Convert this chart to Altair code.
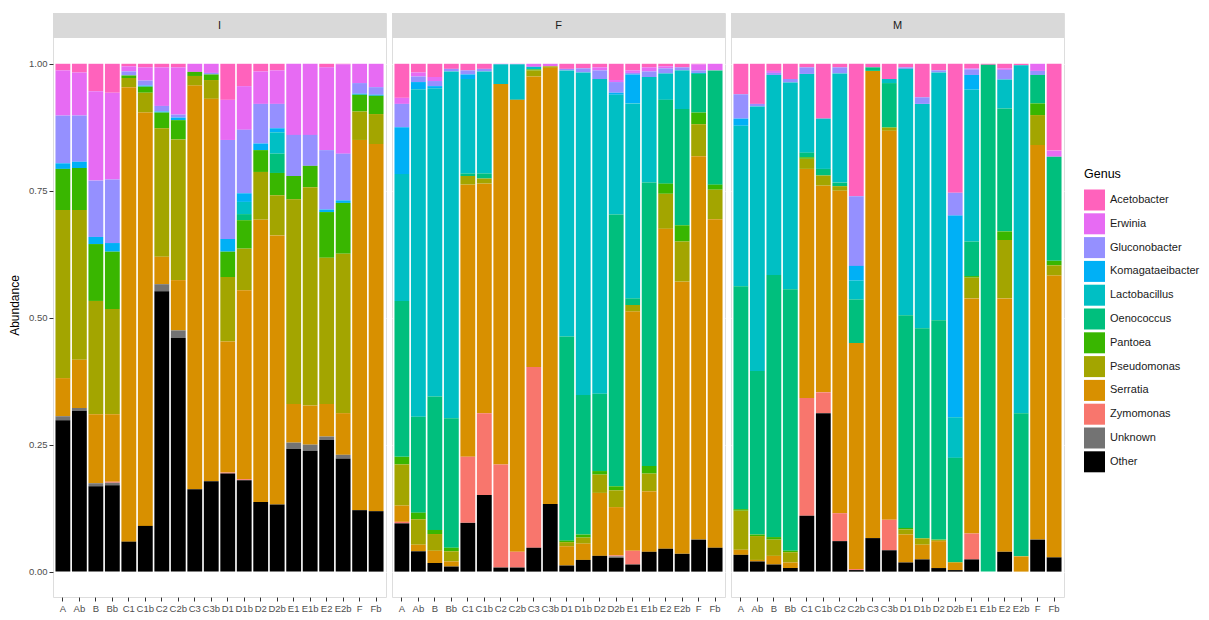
import altair as alt
import pandas as pd

samples = ["A", "Ab", "B", "Bb", "C1", "C1b", "C2", "C2b", "C3", "C3b",
           "D1", "D1b", "D2", "D2b", "E1", "E1b", "E2", "E2b", "F", "Fb"]
stages = ["I", "F", "M"]
# legend order (top of legend = top of stack)
genera = ["Acetobacter", "Erwinia", "Gluconobacter", "Komagataeibacter", "Lactobacillus",
          "Oenococcus", "Pantoea", "Pseudomonas", "Serratia", "Zymomonas", "Unknown", "Other"]
colors = ["#FF62BC", "#E76BF3", "#9590FF", "#00B0F6", "#00BFC4", "#00BF7D",
          "#39B600", "#A3A500", "#D89000", "#F8766D", "#737373", "#000000"]

stage_I = {
    "Other":            [.298, .317, .168, .170, .059, .090, .552, .460, .162, .178, .193, .180, .137, .132, .242, .238, .259, .222, .121, .119],
    "Unknown":          [.008, .005, .006, .005, 0, 0, .014, .015, 0, 0, 0, 0, 0, 0, .012, .012, .007, .008, 0, 0],
    "Zymomonas":        [0, 0, 0, .002, 0, 0, 0, 0, 0, 0, .002, .002, 0, 0, 0, 0, 0, 0, 0, 0],
    "Serratia":         [.075, .095, .136, .133, .895, .814, .054, .099, .795, .753, .258, .372, .556, .530, .076, .077, .064, .082, .729, .723],
    "Pseudomonas":      [.331, .295, .223, .207, .018, .039, .253, .277, .019, .037, .127, .082, .094, .079, .403, .430, .288, .314, .056, .059],
    "Pantoea":          [.081, .083, .112, .113, .005, .012, .031, .038, .008, .011, .050, .056, .043, .044, .046, .042, .090, .100, .033, .036],
    "Oenococcus":       [0, 0, 0, 0, 0, 0, 0, 0, 0, 0, 0, .012, 0, .038, 0, 0, 0, 0, 0, 0],
    "Lactobacillus":    [0, 0, 0, 0, 0, 0, 0, 0, 0, 0, 0, .024, 0, .042, 0, 0, 0, 0, 0, 0],
    "Komagataeibacter": [.011, .012, .014, .017, 0, .002, .002, .005, 0, 0, .025, .017, .013, .008, 0, 0, .005, .005, .002, .002],
    "Gluconobacter":    [.094, .091, .111, .125, .008, .010, .011, .006, 0, .003, .195, .125, .078, .048, .081, .061, .117, .092, .021, .015],
    "Erwinia":          [.089, .085, .176, .171, .010, .026, .076, .093, .016, .018, .079, .086, .064, .066, .140, .140, .163, .176, .038, .046],
    "Acetobacter":      [.013, .017, .054, .057, .005, .007, .007, .007, 0, 0, .071, .044, .015, .013, 0, 0, .007, .001, 0, 0],
}

stage_F = {
    "Other":            [.095, .040, .017, .010, .096, .151, .008, .008, .047, .133, .012, .023, .031, .027, .014, .039, .045, .035, .063, .047],
    "Unknown":          [0, 0, 0, 0, 0, 0, 0, 0, 0, 0, 0, 0, 0, .003, 0, 0, 0, 0, 0, 0],
    "Zymomonas":        [.003, 0, 0, 0, .130, .161, .203, .031, .356, 0, 0, 0, 0, .002, .027, 0, 0, 0, 0, 0],
    "Serratia":         [.032, .013, .024, .010, .536, .452, .749, .890, .572, .859, .038, .032, .124, .095, .471, .119, .630, .536, .755, .647],
    "Pseudomonas":      [.081, .050, .033, .020, .017, .010, 0, 0, .012, .003, .008, .012, .036, .033, .013, .035, .069, .079, .063, .058],
    "Pantoea":          [.015, .013, .008, .007, 0, 0, 0, 0, .002, 0, .003, .006, .007, .008, 0, .015, .020, .032, .023, .010],
    "Oenococcus":       [.307, .189, .263, .255, .005, .010, 0, 0, 0, 0, .402, .275, .152, .535, .013, .558, .165, .229, .076, .225],
    "Lactobacillus":    [.250, .645, .607, .683, .186, .201, .039, .070, .005, 0, .524, .635, .620, .236, .384, .208, .052, .076, .002, 0],
    "Komagataeibacter": [.092, .014, .004, 0, .009, 0, 0, 0, 0, 0, 0, 0, 0, .004, .057, 0, 0, 0, 0, 0],
    "Gluconobacter":    [.046, .011, .010, .005, .008, .005, 0, 0, 0, 0, .003, .008, .017, .021, .003, .011, .010, .006, .005, 0],
    "Erwinia":          [.012, .008, .008, 0, 0, 0, .001, .001, .006, .005, 0, 0, .006, .004, .005, .008, .004, 0, .012, .013],
    "Acetobacter":      [.067, .017, .026, .010, .013, .010, 0, 0, 0, 0, .010, .009, .007, .032, .013, .007, .005, .007, .001, 0],
}

stage_M = {
    "Other":            [.033, .020, .014, .007, .110, .312, .060, .003, .066, .042, .018, .024, .007, .003, .024, 0, .039, 0, .063, .028],
    "Unknown":          [0] * 20,
    "Zymomonas":        [0, 0, 0, 0, .232, .041, .055, .002, 0, .060, 0, 0, 0, 0, .051, 0, 0, 0, 0, 0],
    "Serratia":         [.010, .003, .017, .011, .451, .407, .635, .445, .920, .766, .055, .029, .053, .015, .463, 0, .499, .030, .777, .555],
    "Pseudomonas":      [.077, .047, .032, .020, .020, .020, .009, 0, 0, .006, .010, .012, .002, 0, .041, 0, .115, 0, .059, .020],
    "Pantoea":          [.003, .003, .005, .003, .003, 0, 0, 0, 0, .001, .003, .001, .001, .001, .003, 0, .017, 0, .023, .009],
    "Oenococcus":       [.439, .322, .516, .515, .009, .013, .007, .086, .007, .087, .419, .413, .432, .205, .068, .998, .242, .282, .056, .205],
    "Lactobacillus":    [.316, .521, .394, .407, .155, .099, .215, .037, 0, .008, .485, .442, .488, .080, .299, 0, .057, .685, 0, 0],
    "Komagataeibacter": [.014, 0, 0, 0, 0, 0, 0, .029, 0, 0, 0, 0, 0, .397, .029, 0, 0, 0, 0, 0],
    "Gluconobacter":    [.048, .005, .004, .007, .013, 0, .012, .137, 0, 0, .003, .013, .004, .045, .011, 0, .019, 0, .008, 0],
    "Erwinia":          [0, 0, .004, 0, 0, 0, 0, 0, 0, 0, 0, 0, 0, 0, .002, 0, .003, 0, .014, .012],
    "Acetobacter":      [.060, .079, .014, .030, .007, .108, .007, .261, .007, .030, .007, .066, .013, .254, .009, .002, .009, .003, 0, .171],
}

tables = {"I": stage_I, "F": stage_F, "M": stage_M}

rows = []
for st in stages:
    for g in genera:
        for s, v in zip(samples, tables[st][g]):
            rows.append({"Stage": st, "Sample": s, "Genus": g, "Abundance": v,
                         "stackpos": len(genera) - 1 - genera.index(g)})
df = pd.DataFrame(rows)

W, H = 333, 584
FONT = "Liberation Sans"

color_enc = alt.Color(
    "Genus:N",
    scale=alt.Scale(domain=genera, range=colors),
    legend=alt.Legend(
        title="Genus", orient="none", legendX=1031, legendY=155,
        symbolType="square", symbolSize=441, symbolStrokeWidth=0, symbolOpacity=1,
        labelFontSize=11, labelColor="#1A1A1A", labelOffset=5, labelFont=FONT,
        titleFontSize=12.5, titleFontWeight="normal", titleColor="black", titleFont=FONT,
        titlePadding=9, rowPadding=2.8, padding=0,
    ),
)


def panel(stage, first):
    d = df[df.Stage == stage]
    if first:
        yaxis = alt.Axis(values=[0, 0.25, 0.5, 0.75, 1], format=".2f", grid=True,
                         gridColor="white", gridWidth=1.1, domain=False,
                         tickColor="#333333", tickSize=4, labelColor="#4D4D4D",
                         labelFontSize=9.5, labelPadding=2, labelFont=FONT,
                         title="Abundance", titleFontSize=12, titleFontWeight="normal",
                         titleColor="black", titlePadding=7, titleFont=FONT)
    else:
        yaxis = alt.Axis(values=[0, 0.25, 0.5, 0.75, 1], grid=True, gridColor="white",
                         gridWidth=1.1, labels=False, ticks=False, domain=False, title=None)
    bars = alt.Chart(d).mark_bar().encode(
        x=alt.X("Sample:N", sort=samples,
                scale=alt.Scale(paddingInner=0.1, paddingOuter=0.15),
                axis=alt.Axis(grid=True, gridColor="white", gridWidth=1.1, domain=False,
                              tickColor="#333333", tickSize=4, labelAngle=0,
                              labelColor="#4D4D4D", labelFontSize=9.5, labelPadding=2,
                              labelFont=FONT, title=None)),
        y=alt.Y("Abundance:Q", stack="zero",
                scale=alt.Scale(domain=[-0.05, 1.1], nice=False, zero=False),
                axis=yaxis),
        color=color_enc,
        order=alt.Order("stackpos:Q", sort="ascending"),
    )
    sdf = pd.DataFrame({"Stage": [stage]})
    strip = alt.Chart(sdf).mark_rect(color="#D9D9D9").encode(
        x=alt.value(0), x2=alt.value(W), y=alt.value(0), y2=alt.value(25))
    label = alt.Chart(sdf).mark_text(color="#1A1A1A", fontSize=11, font=FONT,
                                     baseline="middle", align="center").encode(
        x=alt.value(W / 2), y=alt.value(12.5), text="Stage:N")
    return alt.layer(bars, strip, label).properties(width=W, height=H)


chart = alt.hconcat(
    panel("I", True), panel("F", False), panel("M", False), spacing=4
).resolve_scale(color="shared").resolve_legend(color="shared").properties(
    padding={"left": 0, "top": 4, "right": 0, "bottom": 0}
).configure_view(fill="#EBEBEB", strokeWidth=0).configure(font=FONT)

chart.save("out.html", embed_options={"renderer": "svg", "actions": False})
